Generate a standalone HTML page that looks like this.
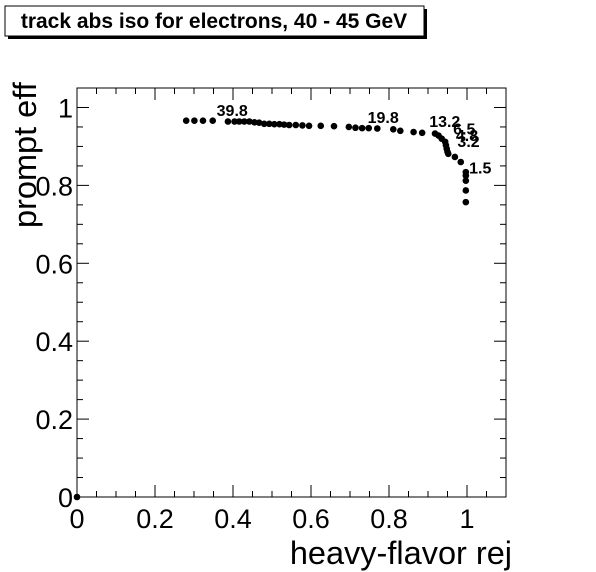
<!DOCTYPE html>
<html><head><meta charset="utf-8"><style>
html,body{margin:0;padding:0;background:#fff;}
svg{display:block;font-family:"Liberation Sans",Arial,sans-serif;}
</style></head><body>
<svg id="chart" width="596" height="572" viewBox="0 0 596 572">
<rect x="0" y="0" width="596" height="572" fill="#fff"/>
<g>
<rect x="8" y="9" width="419" height="30" fill="#000"/>
<rect x="5" y="6" width="419" height="30" fill="#fff" stroke="#000" stroke-width="1"/>
<text x="214" y="28" text-anchor="middle" font-size="21" font-weight="bold">track abs iso for electrons, 40 - 45 GeV</text>
</g>
<g id="axes"></g>
<g id="marks"></g>
<text x="512" y="564" text-anchor="end" font-size="32.5">heavy-flavor rej</text>
<text transform="translate(36,228) rotate(-90)" text-anchor="start" font-size="32.5">prompt eff</text>
</svg>
<script>
const xVals=[0,0.280,0.301,0.323,0.348,0.387,0.404,0.416,0.429,0.442,0.455,0.467,0.480,0.493,0.506,0.519,0.531,0.544,0.561,0.578,0.595,0.625,0.659,0.697,0.714,0.731,0.748,0.770,0.811,0.829,0.863,0.885,0.918,0.927,0.935,0.944,0.946,0.948,0.950,0.952,0.969,0.984,0.997,0.997,0.997,0.997,0.997];
const yVals=[0,0.966,0.966,0.966,0.966,0.964,0.964,0.964,0.964,0.964,0.962,0.961,0.958,0.958,0.957,0.957,0.956,0.955,0.955,0.954,0.953,0.953,0.952,0.950,0.948,0.947,0.947,0.946,0.944,0.940,0.937,0.935,0.933,0.928,0.920,0.912,0.903,0.894,0.886,0.881,0.873,0.860,0.834,0.825,0.812,0.787,0.757];
const labelText=["39.8","19.8","13.2","6.5","4.8","3.2","1.5"];
const labelX=[0.398,0.785,0.943,0.993,1.000,1.004,1.034];
const labelY=[0.978,0.960,0.950,0.930,0.914,0.899,0.830];
const xTicks=[0,0.2,0.4,0.6,0.8,1];
const yTicks=[0,0.2,0.4,0.6,0.8,1];
const X0=77,X1=506,XMAX=1.1,Y0=497,YMAX=1.05,Y1=88;
const sx=v=>X0+v*(X1-X0)/XMAX;
const sy=v=>Y0-v*(Y0-Y1)/YMAX;
const NS="http://www.w3.org/2000/svg";
const axes=document.getElementById('axes'),marks=document.getElementById('marks');
function mk(tag,attrs,parent){const e=document.createElementNS(NS,tag);for(const k in attrs)e.setAttribute(k,attrs[k]);parent.appendChild(e);return e;}
const frame=mk('rect',{x:X0,y:Y1,width:X1-X0,height:Y0-Y1,fill:'none',stroke:'#000','stroke-width':1},axes);


for(let v=0;v<=1.1001;v+=0.05){const big=Math.abs(v*5-Math.round(v*5))<1e-6;const L=big?12:6;const x=sx(v);
mk('line',{x1:x,x2:x,y1:Y0,y2:Y0-L,stroke:'#000'},axes);mk('line',{x1:x,x2:x,y1:Y1,y2:Y1+L,stroke:'#000'},axes);}
for(let v=0;v<=1.0501;v+=0.05){const big=Math.abs(v*5-Math.round(v*5))<1e-6;const L=big?12:6;const y=sy(v);
mk('line',{x1:X0,x2:X0+L,y1:y,y2:y,stroke:'#000'},axes);mk('line',{x1:X1,x2:X1-L,y1:y,y2:y,stroke:'#000'},axes);}
xTicks.forEach(v=>{const t=mk('text',{x:sx(v),y:Y0+31,'text-anchor':'middle','font-size':27},axes);t.textContent=String(v);

});
yTicks.forEach(v=>{const t=mk('text',{x:X0-4,y:sy(v)+10,'text-anchor':'end','font-size':27},axes);t.textContent=String(v);

});
xVals.forEach((v,i)=>{const c=mk('circle',{cx:sx(v),cy:sy(yVals[i]),r:3.3,fill:'#000'},marks);

});
labelText.forEach((s,i)=>{const t=mk('text',{x:sx(labelX[i]),y:sy(labelY[i]),'text-anchor':'middle','font-size':16,'font-weight':'bold'},marks);t.textContent=s;

});
</script>
</body></html>
